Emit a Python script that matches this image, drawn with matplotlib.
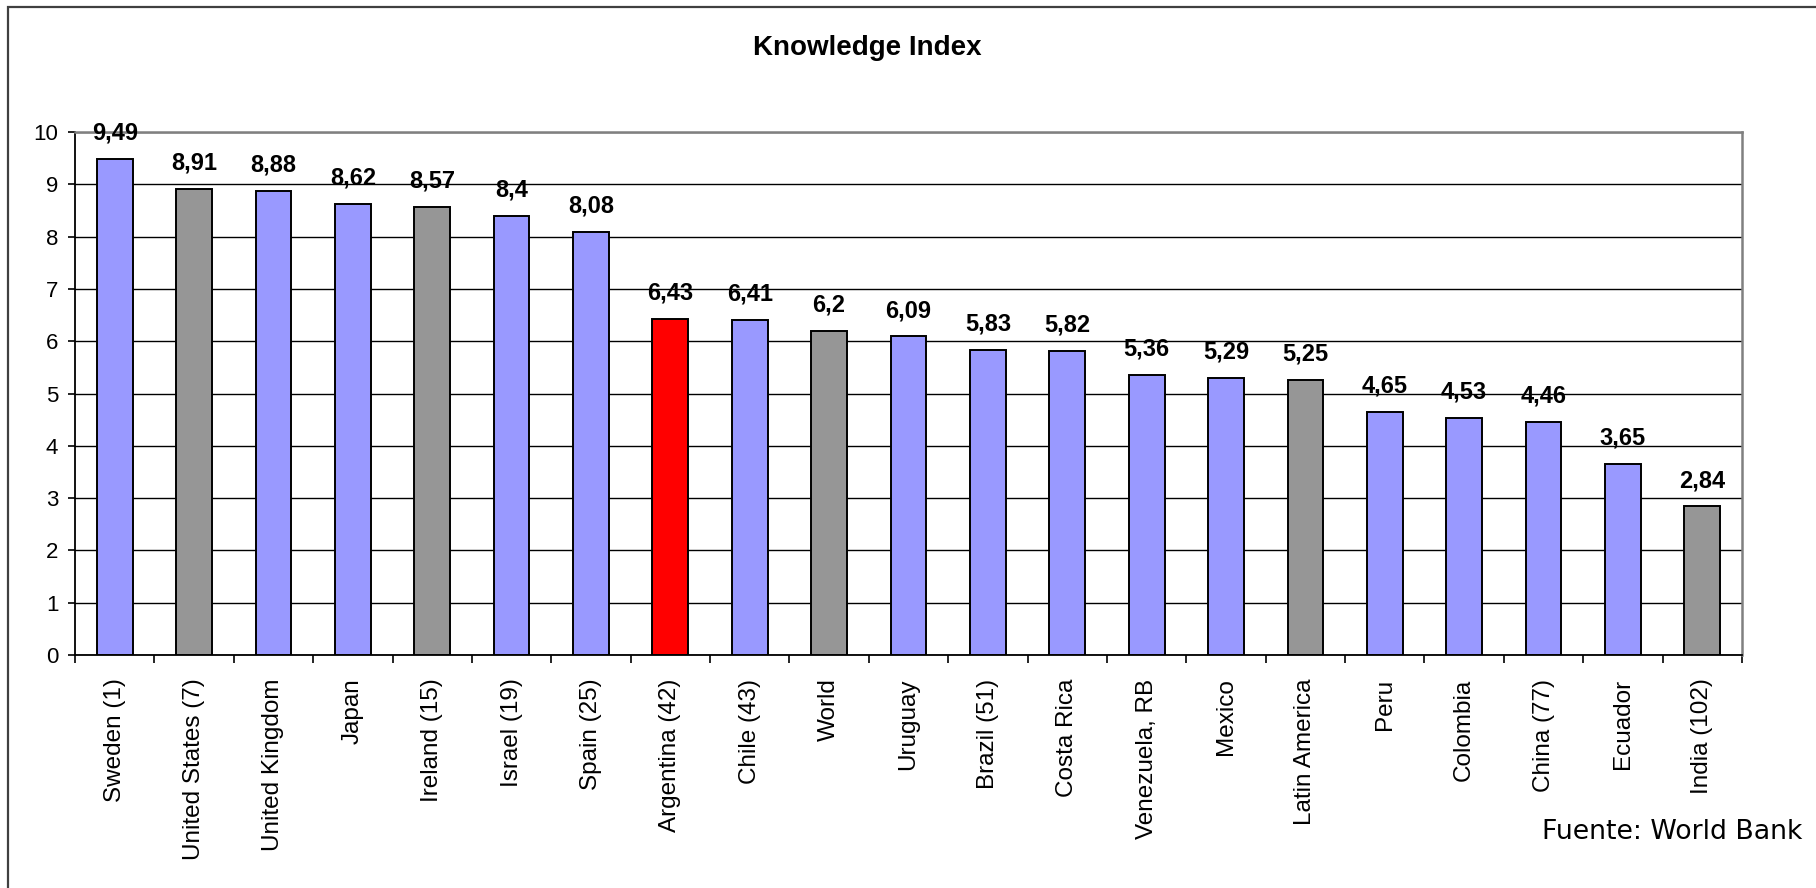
import matplotlib
matplotlib.use("Agg")
import matplotlib.pyplot as plt
from matplotlib.patches import Rectangle

categories = ["Sweden (1)", "United States (7)", "United Kingdom", "Japan", "Ireland (15)",
              "Israel (19)", "Spain (25)", "Argentina (42)", "Chile (43)", "World", "Uruguay",
              "Brazil (51)", "Costa Rica", "Venezuela, RB", "Mexico", "Latin America", "Peru",
              "Colombia", "China (77)", "Ecuador", "India (102)"]
values = [9.49, 8.91, 8.88, 8.62, 8.57, 8.4, 8.08, 6.43, 6.41, 6.2, 6.09,
          5.83, 5.82, 5.36, 5.29, 5.25, 4.65, 4.53, 4.46, 3.65, 2.84]
groups = ["c", "g", "c", "c", "g", "c", "c", "a", "c", "g", "c",
          "c", "c", "c", "c", "g", "c", "c", "c", "c", "g"]
yticks = [0, 1, 2, 3, 4, 5, 6, 7, 8, 9, 10]

color_map = {"c": "#9999FF", "g": "#969696", "a": "#FF0000"}
colors = [color_map[g] for g in groups]

plt.rcParams['font.family'] = ['Liberation Sans', 'DejaVu Sans']

W, H, DPI = 1816, 888, 100
fig = plt.figure(figsize=(W / DPI, H / DPI), dpi=DPI)
fig.patch.set_facecolor("white")

# outer frame
fig.add_artist(Rectangle((8 / W, -0.1), 1.2, (1 - 7 / H) + 0.1, transform=fig.transFigure,
                         fill=False, edgecolor="#404040", linewidth=1.6))

ax = fig.add_axes([75 / W, 1 - 655 / H, (1742 - 75) / W, (655 - 132) / H])
x = list(range(len(categories)))
ax.bar(x, values, width=0.45, color=colors, edgecolor="black", linewidth=1.4, zorder=3)

ax.set_xlim(-0.5, len(categories) - 0.5)
ax.set_ylim(0, 10)
ax.set_yticks(yticks)
ax.set_yticklabels([str(t) for t in yticks], fontsize=16)
ax.yaxis.grid(True, color="black", linewidth=1.0, zorder=0)
ax.set_axisbelow(True)

ax.set_xticks(x)
ax.set_xticklabels(categories, rotation=90, fontsize=17.5, va="top", ha="center")
ax.set_xticks([i - 0.5 for i in range(len(categories) + 1)], minor=True)
ax.tick_params(axis="x", which="major", length=0, pad=17)
ax.tick_params(axis="x", which="minor", length=6, width=1.2, color="black", direction="out")
ax.tick_params(axis="y", length=5, width=1.2, pad=7, direction="out")

for s in ["top", "right"]:
    ax.spines[s].set_color("#808080")
    ax.spines[s].set_linewidth(1.8)
for s in ["left", "bottom"]:
    ax.spines[s].set_color("black")
    ax.spines[s].set_linewidth(1.3)

for xi, v in zip(x, values):
    lab = ("%g" % v).replace(".", ",")
    ax.annotate(lab, (xi, v), xytext=(0, 14), textcoords="offset points",
                ha="center", va="baseline", fontsize=17, fontweight="bold")

fig.text(867 / W, 1 - 55 / H, "Knowledge Index", ha="center", va="baseline",
         fontsize=20, fontweight="bold")
fig.text(1542 / W, 1 - 839 / H, "Fuente: World Bank", ha="left", va="baseline",
         fontsize=19.3, family="DejaVu Sans")

fig.savefig("out.png", dpi=DPI)
